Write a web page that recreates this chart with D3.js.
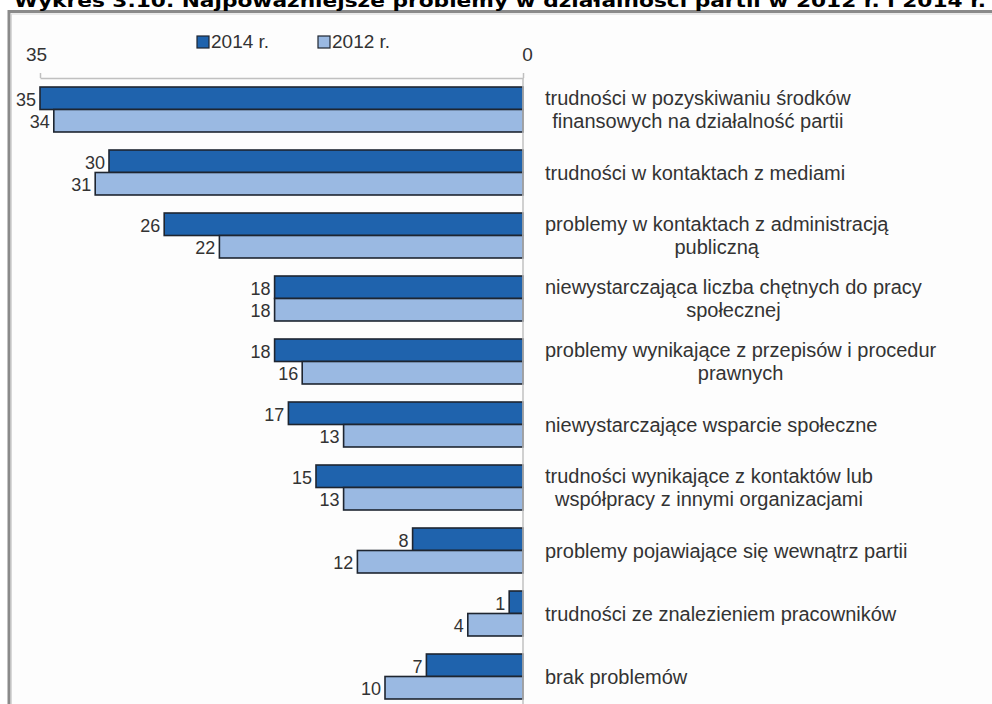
<!DOCTYPE html>
<html>
<head>
<meta charset="utf-8">
<script src="https://cdn.jsdelivr.net/npm/d3@7/dist/d3.min.js"></script>
<style>
  html, body { margin: 0; padding: 0; background: #ffffff; }
  svg { display: block; }
</style>
</head>
<body>
<svg id="chart" width="992" height="704"></svg>
<script>
const title = "Wykres 3.10. Najpoważniejsze problemy w działalności partii w 2012 r. i 2014 r.";
const categories = [
  ["trudności w pozyskiwaniu środków", "finansowych na działalność partii"],
  ["trudności w kontaktach z mediami"],
  ["problemy w kontaktach z administracją", "publiczną"],
  ["niewystarczająca liczba chętnych do pracy", "społecznej"],
  ["problemy wynikające z przepisów i procedur", "prawnych"],
  ["niewystarczające wsparcie społeczne"],
  ["trudności wynikające z kontaktów lub", "współpracy z innymi organizacjami"],
  ["problemy pojawiające się wewnątrz partii"],
  ["trudności ze znalezieniem pracowników"],
  ["brak problemów"]
];
const values2014 = [35, 30, 26, 18, 18, 17, 15, 8, 1, 7];
const values2012 = [34, 31, 22, 18, 16, 13, 13, 12, 4, 10];
const seriesNames = ["2014 r.", "2012 r."];
const axisTicks = [35, 0];

const svg = d3.select("#chart");
const font = "'Liberation Sans', Arial, sans-serif";

// background panel + frame
svg.append("rect").attr("x", 0).attr("y", 0).attr("width", 992).attr("height", 704).attr("fill", "#ffffff");
svg.append("rect").attr("x", 9).attr("y", 11.5).attr("width", 1000).attr("height", 720)
  .attr("fill", "#fdfdfd").attr("stroke", "#8a8a8a").attr("stroke-width", 3);
svg.append("rect").attr("x", 11.5).attr("y", 14).attr("width", 1000).attr("height", 720)
  .attr("fill", "none").attr("stroke", "#d8d8d8").attr("stroke-width", 1);

// title (cut at the top like the reference)
svg.append("text").attr("x", 14).attr("y", 7)
  .attr("font-family", "'DejaVu Sans', Verdana, sans-serif").attr("font-weight", "bold")
  .attr("font-size", 17).attr("fill", "#000")
  .attr("textLength", 972).attr("lengthAdjust", "spacingAndGlyphs")
  .text(title);

const x = d3.scaleLinear().domain([0, 35]).range([523, 40]);
const y = d3.scaleBand().domain(d3.range(categories.length)).range([78, 708])
  .paddingInner(0.286).paddingOuter(0.143);
const bh = y.bandwidth() / 2;

const colors = ["#1f63ad", "#9ab9e2"];
const series = [values2014, values2012];

// top axis
const axis = d3.axisTop(x).tickValues(axisTicks).tickSize(5).tickPadding(12).tickSizeOuter(0);
const gAxis = svg.append("g").attr("transform", "translate(0,78)").call(axis);
gAxis.select(".domain").attr("stroke", "#c0c0c0").attr("stroke-width", 1.5);
gAxis.selectAll(".tick line").attr("stroke", "#c0c0c0").attr("stroke-width", 1.5);
gAxis.selectAll(".tick text").attr("font-family", font).attr("font-size", 19).attr("fill", "#333");
gAxis.selectAll(".tick").filter(d => d === 0).select("text").attr("dx", 4);
gAxis.selectAll(".tick").filter(d => d === 35).select("text").attr("dx", -4);

// bars
series.forEach((vals, si) => {
  svg.append("g").selectAll("rect").data(vals).join("rect")
    .attr("x", d => x(d))
    .attr("y", (d, i) => y(i) + si * bh)
    .attr("width", d => x(0) - x(d))
    .attr("height", bh)
    .attr("fill", colors[si])
    .attr("stroke", "#1e2530").attr("stroke-width", 1.6);
  svg.append("g").selectAll("text").data(vals).join("text")
    .attr("x", d => x(d) - 4)
    .attr("y", (d, i) => y(i) + si * bh + bh / 2 + 1)
    .attr("dy", "0.35em")
    .attr("text-anchor", "end")
    .attr("font-family", font).attr("font-size", 18).attr("fill", "#333")
    .text(d => d);
});

// zero line
svg.append("line").attr("x1", x(0)).attr("x2", x(0)).attr("y1", 78).attr("y2", 704)
  .attr("stroke", "#c0c0c0").attr("stroke-width", 1.5);

// category labels
const lblX = 545, lineH = 23;
categories.forEach((lines, i) => {
  const g = svg.append("g");
  const cy = y(i) + y.bandwidth() / 2;
  const texts = lines.map((t, j) => g.append("text")
    .attr("y", cy + (j - (lines.length - 1) / 2) * lineH)
    .attr("dy", "0.35em")
    .attr("font-family", font).attr("font-size", 20).attr("fill", "#333")
    .text(t));
  const widths = texts.map(t => t.node().getComputedTextLength());
  const maxW = d3.max(widths);
  texts.forEach((t, j) => t.attr("x", lblX + (maxW - widths[j]) / 2));
});

// legend
const legend = svg.append("g");
const legX = [197, 318];
seriesNames.forEach((n, i) => {
  legend.append("rect").attr("x", legX[i]).attr("y", 36).attr("width", 12).attr("height", 12)
    .attr("fill", colors[i]).attr("stroke", "#1e2530").attr("stroke-width", 1.2);
  legend.append("text").attr("x", legX[i] + 14).attr("y", 41.5).attr("dy", "0.35em")
    .attr("font-family", font).attr("font-size", 19).attr("fill", "#333").text(n);
});
</script>
</body>
</html>
